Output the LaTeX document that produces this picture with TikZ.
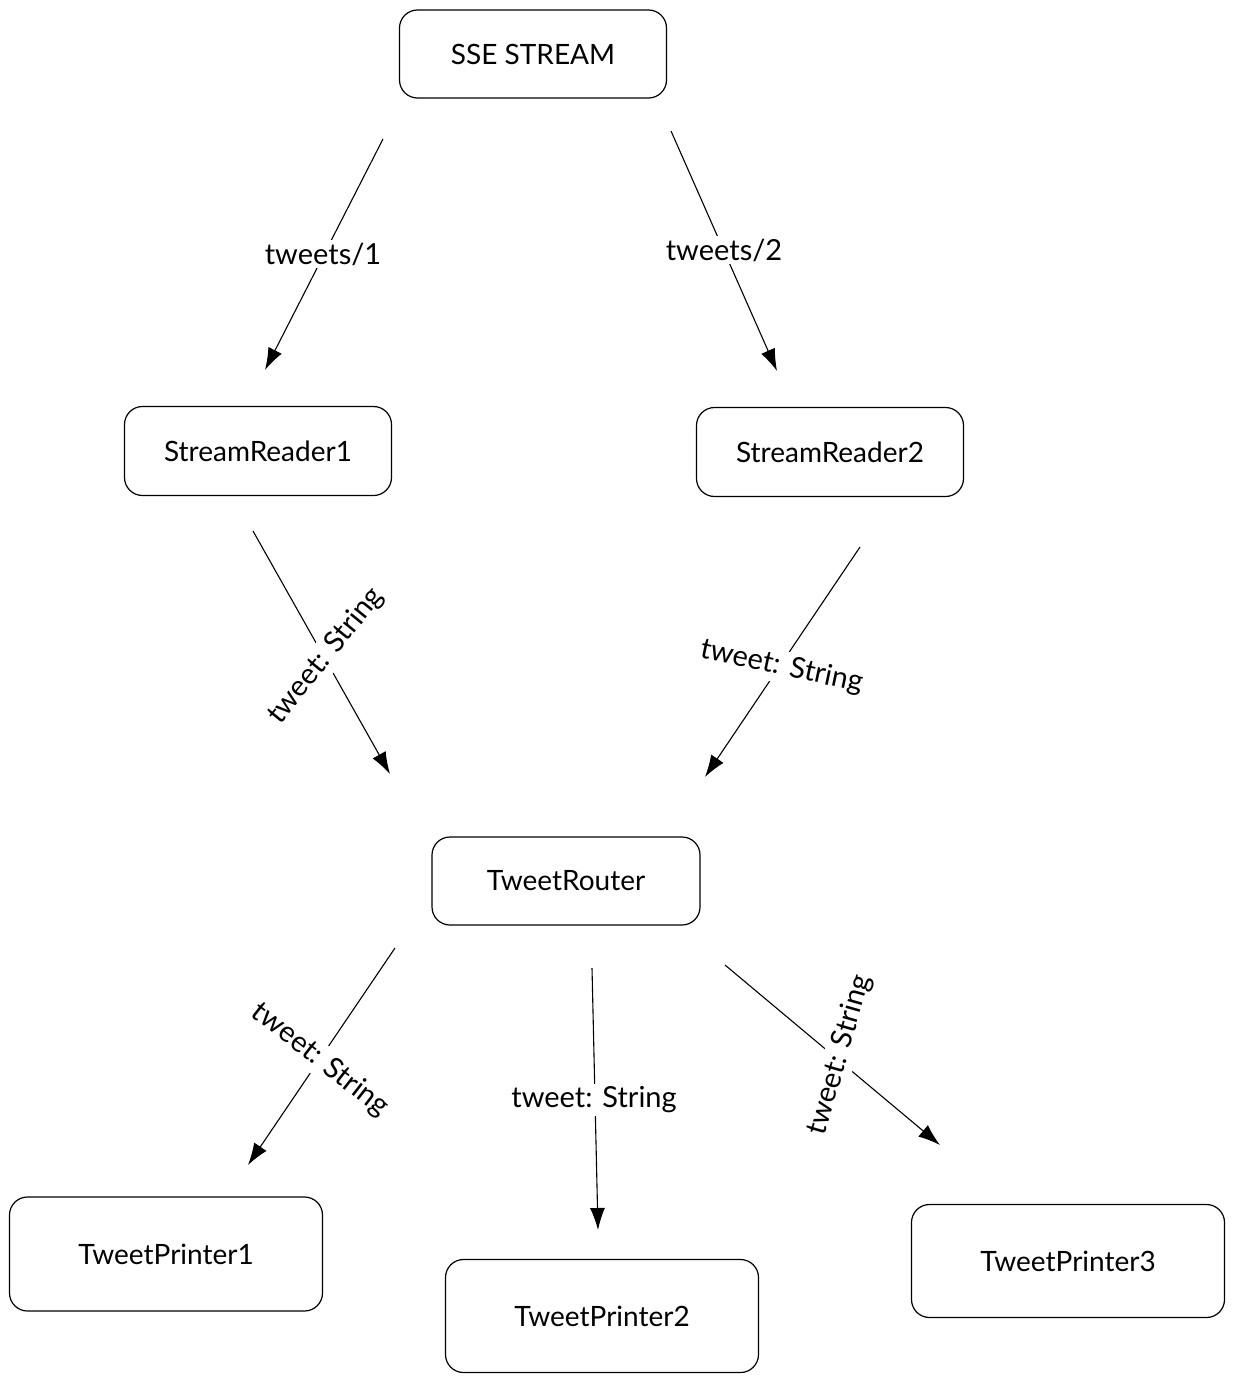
\documentclass[tikz,border=0pt]{standalone}
\usepackage{fontspec}
\setmainfont{Lato}
\usetikzlibrary{arrows.meta}
\begin{document}
\begin{tikzpicture}[x=1pt,y=-1pt,
  box/.style={draw=black,line width=1.2pt,rounded corners=18pt,font=\fontsize{28}{32}\selectfont,inner sep=0pt},
  flow/.style={draw=black,line width=1.1pt,-{Latex[length=22pt,width=15pt]}},
  lbl/.style={fill=white,inner sep=3pt,font=\fontsize{29}{33}\selectfont}]
\useasboundingbox (0,0) rectangle (1235,1383);
\node[box,minimum width=267pt,minimum height=88pt] (sse) at (533,54) {SSE STREAM};
\node[box,minimum width=267pt,minimum height=89pt] (sr1) at (258,451) {StreamReader1};
\node[box,minimum width=267pt,minimum height=89pt] (sr2) at (830,452) {StreamReader2};
\node[box,minimum width=268pt,minimum height=88pt] (tr) at (566,881) {TweetRouter};
\node[box,minimum width=313pt,minimum height=114pt] (tp1) at (166,1254) {TweetPrinter1};
\node[box,minimum width=313pt,minimum height=113pt] (tp2) at (602,1316) {TweetPrinter2};
\node[box,minimum width=313pt,minimum height=113pt] (tp3) at (1068,1261) {TweetPrinter3};
\coordinate (a1s) at (383,139); \coordinate (a1e) at (265,370);
\coordinate (a2s) at (671,131); \coordinate (a2e) at (777,371);
\coordinate (a3s) at (253,531); \coordinate (a3e) at (390,774);
\coordinate (a4s) at (860,547); \coordinate (a4e) at (705,777);
\coordinate (a5s) at (395,948); \coordinate (a5e) at (248,1165);
\coordinate (a6s) at (592,968); \coordinate (a6e) at (598,1230);
\coordinate (a7s) at (725,965); \coordinate (a7e) at (940,1145);
\draw[flow] (a1s) -- (a1e);
\draw[flow] (a2s) -- (a2e);
\draw[flow] (a3s) -- (a3e);
\draw[flow] (a4s) -- (a4e);
\draw[flow] (a5s) -- (a5e);
\draw[flow] (a6s) -- (a6e);
\draw[flow] (a7s) -- (a7e);
\node[lbl] (l1) at (323,254) {tweets/1};
\node[lbl] (l2) at (724,250) {tweets/2};
\node[lbl,rotate=51] (l3) at (326,656) {tweet: String};
\node[lbl,rotate=-12] (l4) at (782,667) {tweet: String};
\node[lbl,rotate=-38] (l5) at (320,1060) {tweet: String};
\node[lbl] (l6) at (594,1100) {tweet: String};
\node[lbl,rotate=74] (l7) at (840,1055) {tweet: String};
\end{tikzpicture}
\end{document}
